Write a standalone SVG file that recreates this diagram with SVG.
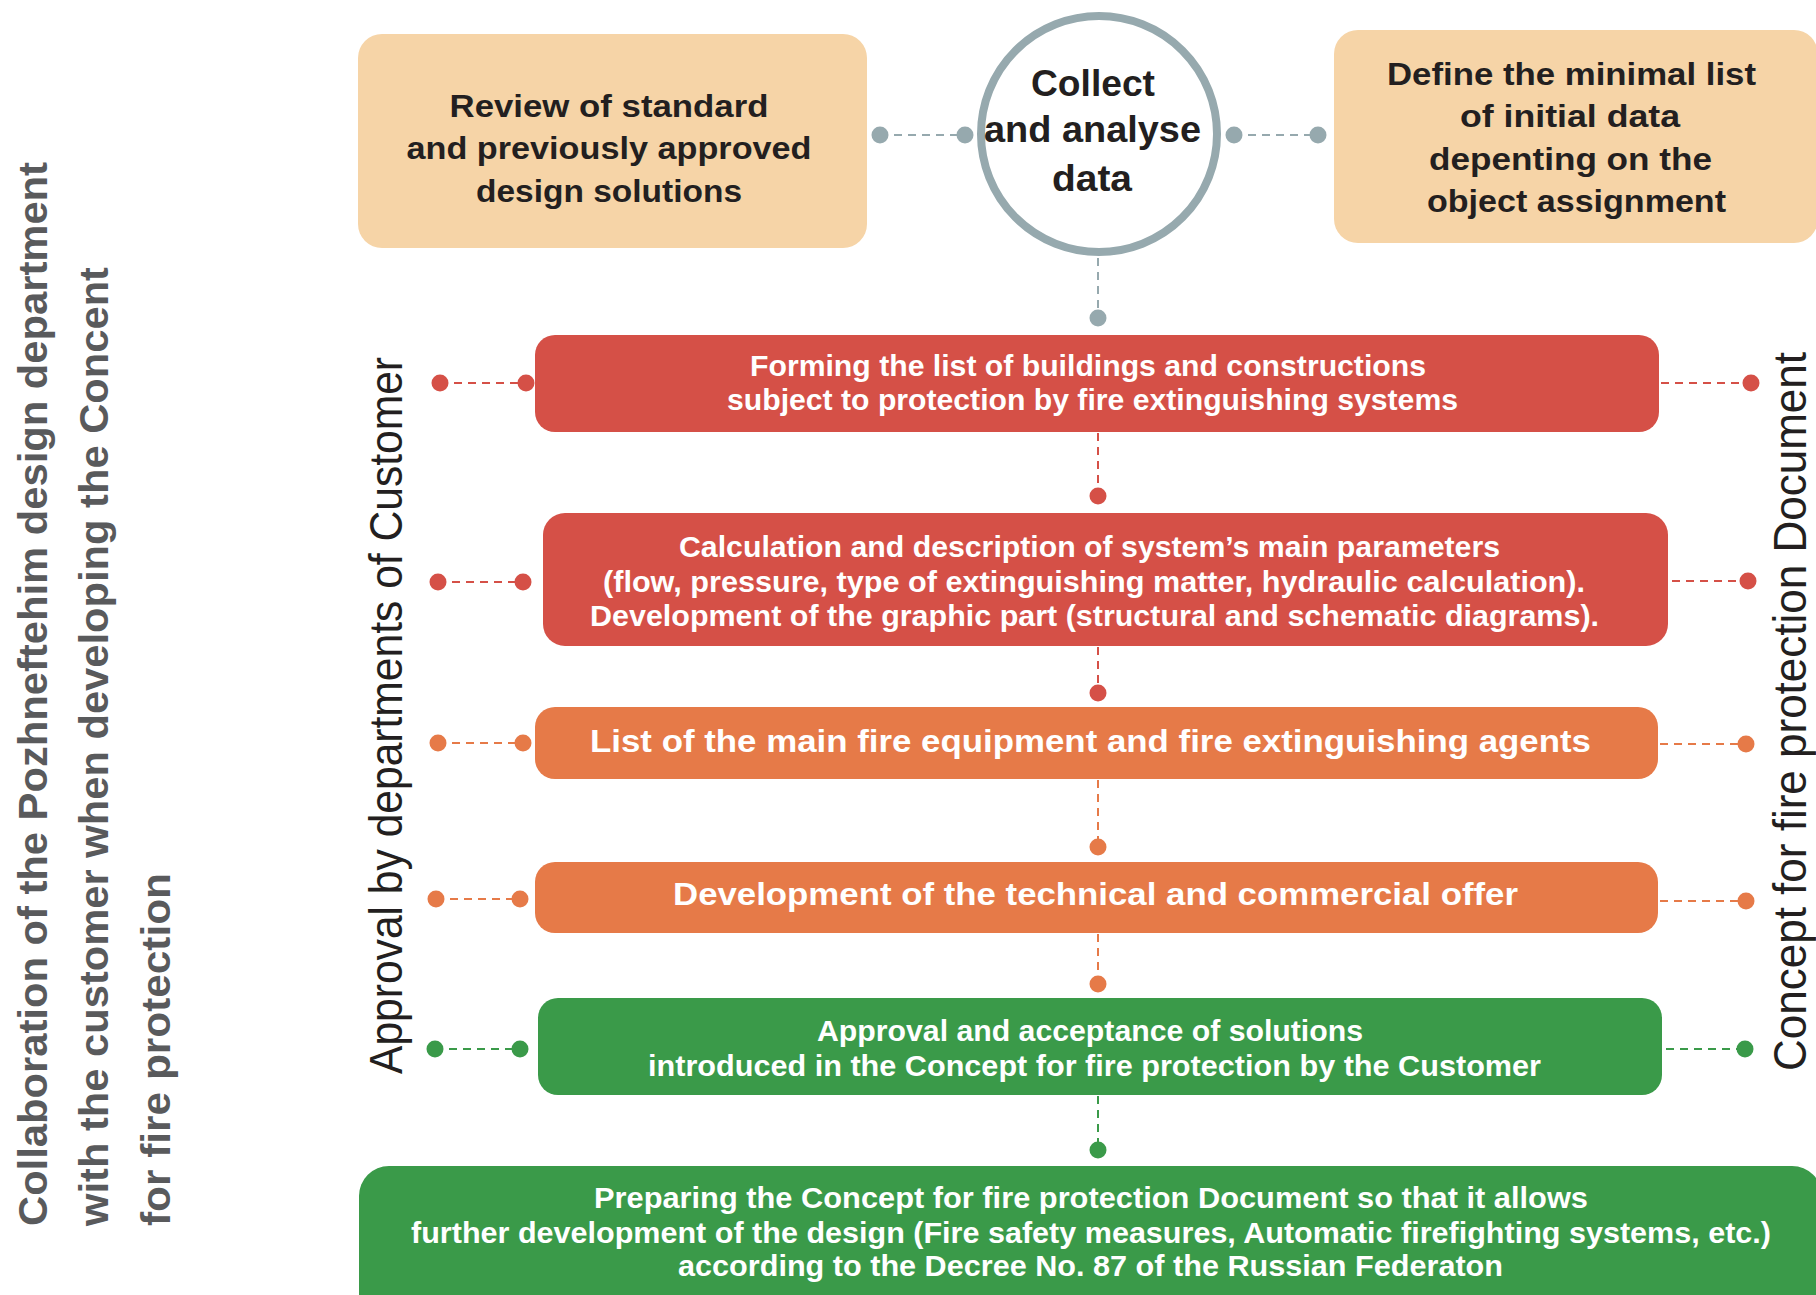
<svg xmlns="http://www.w3.org/2000/svg" width="1816" height="1295" viewBox="0 0 1816 1295">
<style>
.bx{font-family:"Liberation Sans",Arial,sans-serif;font-weight:bold;fill:#ffffff;text-anchor:middle;font-size:29px}
.dk{font-family:"Liberation Sans",Arial,sans-serif;font-weight:bold;fill:#231f20;text-anchor:middle;font-size:32px}
.side{font-family:"Liberation Sans",Arial,sans-serif;fill:#231f20;font-size:47px}
.gray{font-family:"Liberation Sans",Arial,sans-serif;font-weight:bold;fill:#595a5c;font-size:41px}
.beige{fill:#f6d4a7}
.red{fill:#d55047}
.orange{fill:#e67a48}
.green{fill:#3a9a49}
.dg{stroke:#96a9ae;stroke-width:2;stroke-dasharray:8 6;fill:none}
.dr{stroke:#d55047;stroke-width:2;stroke-dasharray:8 6;fill:none}
.do{stroke:#e67a48;stroke-width:2;stroke-dasharray:8 6;fill:none}
.dgr{stroke:#3a9a49;stroke-width:2;stroke-dasharray:8 6;fill:none}
</style>
<rect width="1816" height="1295" fill="#ffffff"/>

<g id="side-labels">
<text class="gray" transform="translate(47,1226) rotate(-90)" textLength="1064" lengthAdjust="spacingAndGlyphs">Collaboration of the Pozhneftehim design department</text>
<text class="gray" transform="translate(108,1226) rotate(-90)" textLength="959" lengthAdjust="spacingAndGlyphs">with the customer when developing the Concent</text>
<text class="gray" transform="translate(170,1226) rotate(-90)" textLength="353" lengthAdjust="spacingAndGlyphs">for fire protection</text>
<text class="side" transform="translate(402,1074) rotate(-90)" textLength="717" lengthAdjust="spacingAndGlyphs">Approval by departments of Customer</text>
<text class="side" transform="translate(1806,1071) rotate(-90)" textLength="719" lengthAdjust="spacingAndGlyphs">Concept for fire protection Document</text>
</g>

<g id="connectors">
<line class="dg" x1="880" y1="135" x2="965" y2="135"/>
<line class="dg" x1="1234" y1="135" x2="1318" y2="135"/>
<line class="dg" x1="1098" y1="258" x2="1098" y2="318"/>
<circle cx="880" cy="135" r="8.5" fill="#96a9ae"/>
<circle cx="965" cy="135" r="8.5" fill="#96a9ae"/>
<circle cx="1234" cy="135" r="8.5" fill="#96a9ae"/>
<circle cx="1318" cy="135" r="8.5" fill="#96a9ae"/>
<circle cx="1098" cy="318" r="8.5" fill="#96a9ae"/>

<line class="dr" x1="440" y1="383" x2="526" y2="383"/>
<line class="dr" x1="1661" y1="383" x2="1751" y2="383"/>
<line class="dr" x1="1098" y1="433" x2="1098" y2="496"/>
<circle cx="440" cy="383" r="8.5" fill="#d55047"/>
<circle cx="526" cy="383" r="8.5" fill="#d55047"/>
<circle cx="1751" cy="383" r="8.5" fill="#d55047"/>
<circle cx="1098" cy="496" r="8.5" fill="#d55047"/>

<line class="dr" x1="438" y1="582" x2="523" y2="582"/>
<line class="dr" x1="1672" y1="581" x2="1748" y2="581"/>
<line class="dr" x1="1098" y1="647" x2="1098" y2="693"/>
<circle cx="438" cy="582" r="8.5" fill="#d55047"/>
<circle cx="523" cy="582" r="8.5" fill="#d55047"/>
<circle cx="1748" cy="581" r="8.5" fill="#d55047"/>
<circle cx="1098" cy="693" r="8.5" fill="#d55047"/>

<line class="do" x1="438" y1="743" x2="523" y2="743"/>
<line class="do" x1="1660" y1="744" x2="1746" y2="744"/>
<line class="do" x1="1098" y1="780" x2="1098" y2="847"/>
<circle cx="438" cy="743" r="8.5" fill="#e67a48"/>
<circle cx="523" cy="743" r="8.5" fill="#e67a48"/>
<circle cx="1746" cy="744" r="8.5" fill="#e67a48"/>
<circle cx="1098" cy="847" r="8.5" fill="#e67a48"/>

<line class="do" x1="436" y1="899" x2="520" y2="899"/>
<line class="do" x1="1660" y1="901" x2="1746" y2="901"/>
<line class="do" x1="1098" y1="934" x2="1098" y2="984"/>
<circle cx="436" cy="899" r="8.5" fill="#e67a48"/>
<circle cx="520" cy="899" r="8.5" fill="#e67a48"/>
<circle cx="1746" cy="901" r="8.5" fill="#e67a48"/>
<circle cx="1098" cy="984" r="8.5" fill="#e67a48"/>

<line class="dgr" x1="435" y1="1049" x2="520" y2="1049"/>
<line class="dgr" x1="1666" y1="1049" x2="1745" y2="1049"/>
<line class="dgr" x1="1098" y1="1096" x2="1098" y2="1150"/>
<circle cx="435" cy="1049" r="8.5" fill="#3a9a49"/>
<circle cx="520" cy="1049" r="8.5" fill="#3a9a49"/>
<circle cx="1745" cy="1049" r="8.5" fill="#3a9a49"/>
<circle cx="1098" cy="1150" r="8.5" fill="#3a9a49"/>
</g>

<g id="review">
<rect class="beige" x="358" y="34" width="509" height="214" rx="24"/>
<text class="dk" x="609" y="117" textLength="319" lengthAdjust="spacingAndGlyphs">Review of standard</text>
<text class="dk" x="609" y="159" textLength="405" lengthAdjust="spacingAndGlyphs">and previously approved</text>
<text class="dk" x="609" y="202" textLength="266" lengthAdjust="spacingAndGlyphs">design solutions</text>
</g>

<g id="collect">
<circle cx="1099" cy="134" r="118" fill="#ffffff" stroke="#96a9ae" stroke-width="8"/>
<text class="dk" style="font-size:37px" x="1093" y="96" textLength="124" lengthAdjust="spacingAndGlyphs">Collect</text>
<text class="dk" style="font-size:37px" x="1092.5" y="142" textLength="217" lengthAdjust="spacingAndGlyphs">and analyse</text>
<text class="dk" style="font-size:37px" x="1092" y="191" textLength="80" lengthAdjust="spacingAndGlyphs">data</text>
</g>

<g id="define">
<rect class="beige" x="1334" y="30" width="484" height="213" rx="24"/>
<text class="dk" x="1571.5" y="85" textLength="369" lengthAdjust="spacingAndGlyphs">Define the minimal list</text>
<text class="dk" x="1570" y="127" textLength="220" lengthAdjust="spacingAndGlyphs">of initial data</text>
<text class="dk" x="1570.5" y="170" textLength="283" lengthAdjust="spacingAndGlyphs">depenting on the</text>
<text class="dk" x="1576.5" y="212" textLength="299" lengthAdjust="spacingAndGlyphs">object assignment</text>
</g>

<g id="forming">
<rect class="red" x="535" y="335" width="1124" height="97" rx="20"/>
<text class="bx" x="1088" y="376" textLength="676" lengthAdjust="spacingAndGlyphs">Forming the list of buildings and constructions</text>
<text class="bx" x="1092.5" y="410" textLength="731" lengthAdjust="spacingAndGlyphs">subject to protection by fire extinguishing systems</text>
</g>

<g id="calculation">
<rect class="red" x="543" y="513" width="1125" height="133" rx="22"/>
<text class="bx" x="1089.5" y="557" textLength="821" lengthAdjust="spacingAndGlyphs">Calculation and description of system’s main parameters</text>
<text class="bx" x="1094" y="592" textLength="982" lengthAdjust="spacingAndGlyphs">(flow, pressure, type of extinguishing matter, hydraulic calculation).</text>
<text class="bx" x="1094.5" y="626" textLength="1009" lengthAdjust="spacingAndGlyphs">Development of the graphic part (structural and schematic diagrams).</text>
</g>

<g id="equipment">
<rect class="orange" x="535" y="707" width="1123" height="72" rx="20"/>
<text class="bx" style="font-size:32px" x="1090.5" y="752" textLength="1001" lengthAdjust="spacingAndGlyphs">List of the main fire equipment and fire extinguishing agents</text>
</g>

<g id="offer">
<rect class="orange" x="535" y="862" width="1123" height="71" rx="20"/>
<text class="bx" style="font-size:32px" x="1095.5" y="905" textLength="845" lengthAdjust="spacingAndGlyphs">Development of the technical and commercial offer</text>
</g>

<g id="approval">
<rect class="green" x="538" y="998" width="1124" height="97" rx="20"/>
<text class="bx" x="1090" y="1041" textLength="546" lengthAdjust="spacingAndGlyphs">Approval and acceptance of solutions</text>
<text class="bx" x="1094.5" y="1076" textLength="893" lengthAdjust="spacingAndGlyphs">introduced in the Concept for fire protection by the Customer</text>
</g>

<g id="preparing">
<rect class="green" x="359" y="1166" width="1463" height="170" rx="30"/>
<text class="bx" x="1091" y="1208" textLength="994" lengthAdjust="spacingAndGlyphs">Preparing the Concept for fire protection Document so that it allows</text>
<text class="bx" x="1091" y="1243" textLength="1360" lengthAdjust="spacingAndGlyphs">further development of the design (Fire safety measures, Automatic firefighting systems, etc.)</text>
<text class="bx" x="1090.5" y="1276" textLength="825" lengthAdjust="spacingAndGlyphs">according to the Decree No. 87 of the Russian Federaton</text>
</g>
</svg>
